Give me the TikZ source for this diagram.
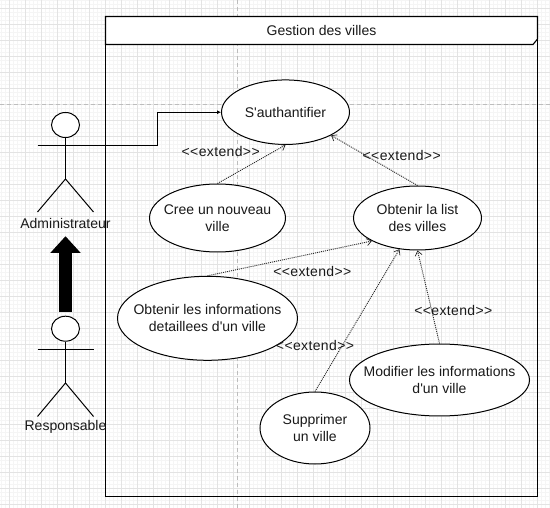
\documentclass[tikz,border=0pt]{standalone}
\usepackage{fontspec}
\setmainfont{Liberation Sans}
\usetikzlibrary{shapes.geometric,arrows.meta}
\newfontfamily\plainfont{Liberation Sans}
\newfontfamily\spacedfont[LetterSpace=2.6]{Liberation Sans}
\tikzset{
  x=1pt,y=-1pt,
  gridminor/.style={draw=black!4,line width=0.8pt},
  gridmajor/.style={draw=black!11,line width=0.9pt},
  pagebreak/.style={draw=black!26,line width=0.8pt,dash pattern=on 4pt off 3pt},
  frame/.style={draw=black,line width=1.1pt},
  titleband/.style={frame,fill=white},
  usecase/.style={ellipse,draw=black,line width=1pt,fill=white,inner sep=0pt},
  uctext/.style={inner sep=0pt,align=center,text=black!90,font=\fontsize{14}{17}\plainfont},
  actorhead/.style={ellipse,draw=black,line width=1pt,fill=white,inner sep=0pt,minimum width=28pt,minimum height=25pt},
  actorline/.style={draw=black,line width=1pt},
  textlabel/.style={inner sep=0pt,minimum height=17pt,text=black!90,font=\fontsize{14}{17}\plainfont},
  extlabel/.style={inner sep=0pt,text=black!90,font=\fontsize{14}{17}\spacedfont},
  extends/.style={draw=black!85,line width=0.9pt,dash pattern=on 1pt off 1pt,-{Straight Barb[length=4.5pt,width=7pt,line width=0.7pt]}},
  assoc/.style={draw=black,line width=1pt,-{Latex[length=4pt,width=4pt]}},
  bigarrow/.style={draw=black,line width=13.3pt,-{Triangle[length=16.7pt,width=29.3pt]}}
}
\begin{document}
\begin{tikzpicture}
\useasboundingbox (0,0) rectangle (550,508);
\fill[white] (0,0) rectangle (550,508);
% grid
\foreach \i in {0,...,137} {\draw[gridminor] (1.5+4*\i,0) -- (1.5+4*\i,508);}
\foreach \i in {0,...,127} {\draw[gridminor] (0,0.5+4*\i) -- (550,0.5+4*\i);}
\foreach \i in {0,...,33} {\draw[gridmajor] (9.5+16*\i,0) -- (9.5+16*\i,508);}
\foreach \i in {0,...,31} {\draw[gridmajor] (0,8.5+16*\i) -- (550,8.5+16*\i);}
\draw[pagebreak] (0,104.5) -- (550,104.5);
\draw[pagebreak] (237.5,0) -- (237.5,508);
% system frame
\draw[frame] (105.5,16.5) rectangle (537.5,496.5);
\draw[titleband] (105.5,16.5) -- (537.5,16.5) -- (537.5,39) -- (533,44.5) -- (105.5,44.5) -- cycle;
\node[textlabel] (title) at (321.5,30) {Gestion des villes};
% use cases
\node[usecase,minimum width=128pt,minimum height=64.5pt,label={[uctext]center:{S'authantifier}}] (auth) at (285.5,112.2) {};
\node[usecase,minimum width=136pt,minimum height=68pt,label={[uctext]center:{Cree un nouveau\\ville}}] (cree) at (217.5,218) {};
\node[usecase,minimum width=128pt,minimum height=64pt,label={[uctext]center:{Obtenir la list\\des villes}}] (list) at (417.5,218) {};
\node[usecase,minimum width=180pt,minimum height=84pt,label={[uctext]center:{Obtenir les informations\\detaillees d'un ville}}] (info) at (207.5,318.3) {};
\node[usecase,minimum width=180pt,minimum height=72pt,label={[uctext]center:{Modifier les informations\\d'un ville}}] (modif) at (439.5,380) {};
\node[usecase,minimum width=110pt,minimum height=72pt,label={[uctext]center:{Supprimer\\un ville}}] (supp) at (315,428) {};
% actor: Administrateur
\node[actorhead] (ahead) at (65.5,125) {};
\coordinate (ahip) at (65.5,179);
\coordinate (aarml) at (37.5,145.5);
\coordinate (aarmr) at (93.5,145.5);
\coordinate (alegl) at (37.5,212);
\coordinate (alegr) at (93.5,212);
\draw[actorline] (ahead.south) -- (ahip);
\draw[actorline] (aarml) -- (aarmr);
\draw[actorline] (alegl) -- (ahip) -- (alegr);
\node[textlabel] (alabel) at (65.5,223) {Administrateur};
% actor: Responsable
\node[actorhead] (rhead) at (65.5,328.7) {};
\coordinate (rhip) at (65.5,383);
\coordinate (rarml) at (37.5,349.7);
\coordinate (rarmr) at (93.5,349.7);
\coordinate (rlegl) at (37.5,416.5);
\coordinate (rlegr) at (93.5,416.5);
\draw[actorline] (rhead.south) -- (rhip);
\draw[actorline] (rarml) -- (rarmr);
\draw[actorline] (rlegl) -- (rhip) -- (rlegr);
\node[textlabel] (rlabel) at (65.5,427) {Responsable};
% connectors
\draw[bigarrow,shorten <=3.5pt,shorten >=4.5pt] (rhead.north) -- (alabel.south);
\draw[assoc] (aarmr) -- ++(64,0) |- (auth.west);
\draw[extends] (cree.north) -- (auth.south);
\draw[extends] (list.north) -- (auth.south east);
\draw[extends] (info.north) -- (list.south west);
\draw[extends] (supp.north) -- (list.240);
\draw[extends] (modif.north) -- (list.south);
% extend labels
\node[extlabel] (e1) at (220.7,151) {<<extend>>};
\node[extlabel] (e2) at (401.7,155) {<<extend>>};
\node[extlabel] (e3) at (312.3,271.3) {<<extend>>};
\node[extlabel] (e4) at (453.3,310) {<<extend>>};
\node[extlabel] (e5) at (315,345) {<<extend>>};
\end{tikzpicture}
\end{document}
